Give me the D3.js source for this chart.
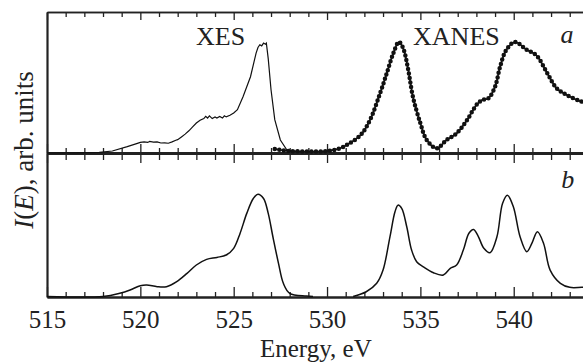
<!DOCTYPE html>
<html>
<head>
<meta charset="utf-8">
<script src="https://cdn.jsdelivr.net/npm/d3@7"></script>
<style>
  body { margin: 0; background: #fff; }
  svg { display: block; }
</style>
</head>
<body>
<script>
// panel a: measured XES (thin line) and XANES (dotted, thick)
const xesEnergy = [515.0, 516.5, 517.8, 518.5, 519.3, 519.8, 520.0, 520.2, 520.4, 520.5, 520.7, 520.9, 521.1, 521.3, 521.5,
  521.7, 521.9, 522.0, 522.2, 522.4, 522.6, 522.8, 523.0, 523.2, 523.4, 523.5, 523.6, 523.7, 523.85, 524.0, 524.1,
  524.25, 524.4, 524.5, 524.6, 524.8, 525.0, 525.2, 525.5, 525.9, 526.2, 526.3, 526.4, 526.5, 526.6, 526.7, 526.75,
  526.85, 527.0, 527.2, 527.5, 527.85, 528.5];
const xesIntensity = [0.0, 0.002, 0.006, 0.018, 0.057, 0.085, 0.095, 0.1, 0.095, 0.105, 0.098, 0.1, 0.09, 0.092, 0.088,
  0.1, 0.115, 0.12, 0.145, 0.17, 0.2, 0.235, 0.27, 0.295, 0.31, 0.33, 0.315, 0.335, 0.31, 0.325, 0.315,
  0.33, 0.315, 0.335, 0.325, 0.34, 0.36, 0.39, 0.507, 0.687, 0.9, 0.95, 0.975, 0.965, 0.99, 0.98, 0.99,
  0.85, 0.57, 0.3, 0.117, 0.027, 0.01];

const xanesEnergy = [527.2, 527.5, 528.0, 529.0, 530.0, 530.7, 531.2, 531.8, 532.3, 532.84, 533.2, 533.55, 533.85,
  534.08, 534.35, 534.6, 535.0, 535.34, 535.87, 536.4, 536.94, 537.5, 538.0, 538.3, 538.64, 539.0, 539.27, 539.6,
  540.07, 540.7, 541.2, 541.8, 542.3, 542.84, 543.64, 544.0];
const xanesIntensity = [0.036, 0.027, 0.018, 0.014, 0.018, 0.042, 0.087, 0.162, 0.297, 0.538, 0.718, 0.898, 1.0,
  0.943, 0.748, 0.507, 0.268, 0.117, 0.042, 0.117, 0.177, 0.297, 0.432, 0.477, 0.493, 0.597, 0.777, 0.928,
  1.0, 0.928, 0.883, 0.718, 0.583, 0.523, 0.462, 0.45];

// panel b: calculated spectra, two pieces
const calcXesEnergy = [515.0, 518.0, 518.9, 519.45, 520.0, 520.34, 520.9, 521.4, 521.95, 522.5, 523.0, 523.55, 524.1,
  524.6, 525.0, 525.34, 525.7, 526.05, 526.3, 526.6, 526.85, 527.1, 527.4, 527.66, 528.0, 528.9, 529.25];
const calcXesIntensity = [0.005, 0.005, 0.036, 0.068, 0.11, 0.117, 0.1, 0.1, 0.149, 0.23, 0.311, 0.366, 0.385,
  0.408, 0.473, 0.618, 0.813, 0.958, 1.0, 0.958, 0.813, 0.586, 0.327, 0.133, 0.036, 0.01, 0.005];

const calcXanesEnergy = [531.4, 532.1, 532.66, 533.0, 533.37, 533.64, 533.8, 534.0, 534.27, 534.53, 534.8, 535.16,
  535.7, 536.23, 536.6, 536.94, 537.3, 537.6, 537.85, 538.1, 538.4, 538.73, 539.1, 539.4, 539.66, 539.98, 540.34,
  540.7, 540.97, 541.27, 541.6, 541.95, 542.5, 543.0, 543.64, 544.0];
const calcXanesIntensity = [0.005, 0.051, 0.133, 0.262, 0.585, 0.828, 0.893, 0.861, 0.683, 0.456, 0.343, 0.294,
  0.236, 0.214, 0.279, 0.311, 0.456, 0.62, 0.657, 0.59, 0.473, 0.43, 0.585, 0.91, 0.99, 0.877, 0.585,
  0.44, 0.521, 0.634, 0.521, 0.262, 0.133, 0.094, 0.094, 0.094];

const majorTicks = [515, 520, 525, 530, 535, 540];
const minorTicks = d3.range(516, 544).filter(v => v % 5 !== 0);

const W = 583, H = 362;
const serif = "'Liberation Serif', serif";

const svg = d3.select('body').append('svg').attr('width', W).attr('height', H);

const x = d3.scaleLinear().domain([515, 544]).range([47, 588.4]);
const yA = d3.scaleLinear().domain([0, 1.27]).range([153, 12]);
const yB = d3.scaleLinear().domain([0, 1.4]).range([297, 153]);

const zip = (xs, ys) => xs.map((e, i) => ({ e, v: ys[i] }));

// axis helper
const addAxis = (axis, ty, domainWidth) => {
  const g = svg.append('g').attr('transform', `translate(0,${ty})`).call(axis);
  g.select('.domain').attr('stroke', '#222').attr('stroke-width', domainWidth);
  g.selectAll('.tick line').attr('stroke', '#222').attr('stroke-width', 1.3);
  return g;
};

// top border
addAxis(d3.axisTop(x).tickValues(minorTicks).tickSize(-5).tickSizeOuter(0).tickFormat(''), yA(1.27), 1.6);
addAxis(d3.axisTop(x).tickValues(majorTicks).tickSize(-8).tickSizeOuter(0).tickFormat(''), yA(1.27), 1.6);

// middle divider: ticks up for panel a, down for panel b
addAxis(d3.axisBottom(x).tickValues(minorTicks).tickSize(-5).tickSizeOuter(0).tickFormat(''), yA(0), 2.4);
addAxis(d3.axisBottom(x).tickValues(majorTicks).tickSize(-9).tickSizeOuter(0).tickFormat(''), yA(0), 2.4);
addAxis(d3.axisTop(x).tickValues(minorTicks).tickSize(-7).tickSizeOuter(0).tickFormat(''), yA(0), 2.4);
addAxis(d3.axisTop(x).tickValues(majorTicks).tickSize(-10).tickSizeOuter(0).tickFormat(''), yA(0), 2.4);

// bottom axis with labels
addAxis(d3.axisBottom(x).tickValues(minorTicks).tickSize(-5).tickSizeOuter(0).tickFormat(''), yB(0), 2.2);
const xAxis = addAxis(d3.axisBottom(x).tickValues(majorTicks).tickSize(-10).tickPadding(13)
  .tickSizeOuter(0).tickFormat(d3.format('d')), yB(0), 2.2);
xAxis.selectAll('text').style('font-family', serif).attr('font-size', 25).attr('fill', '#222');

// left axis
[yA, yB].forEach(s => {
  svg.append('g').attr('transform', `translate(${x(515)},0)`)
    .call(d3.axisLeft(s).tickValues([]).tickSizeOuter(0))
    .select('.domain').attr('stroke', '#222').attr('stroke-width', 2.2);
});

const lineA = d3.line().x(d => x(d.e)).y(d => yA(d.v));
const lineB = d3.line().x(d => x(d.e)).y(d => yB(d.v)).curve(d3.curveCatmullRom.alpha(0.5));

svg.append('path')
  .datum(zip(xesEnergy, xesIntensity))
  .attr('fill', 'none').attr('stroke', '#111').attr('stroke-width', 1.2)
  .attr('d', lineA);

// XANES: thin core line with round dots on top
const xanesLine = d3.line().x(d => x(d.e)).y(d => yA(d.v)).curve(d3.curveCatmullRom.alpha(0.5));
const xanesData = zip(xanesEnergy, xanesIntensity);
svg.append('path').datum(xanesData)
  .attr('fill', 'none').attr('stroke', '#111').attr('stroke-width', 1.6)
  .attr('d', xanesLine);
svg.append('path').datum(xanesData)
  .attr('fill', 'none').attr('stroke', '#111').attr('stroke-width', 4.5)
  .attr('stroke-linecap', 'round').attr('stroke-dasharray', '0 4.6')
  .attr('d', xanesLine);

[zip(calcXesEnergy, calcXesIntensity), zip(calcXanesEnergy, calcXanesIntensity)].forEach(d => {
  svg.append('path').datum(d)
    .attr('fill', 'none').attr('stroke', '#111').attr('stroke-width', 1.5)
    .attr('d', lineB);
});

// labels
const label = (txt, ex, ty, italic) => svg.append('text')
  .attr('x', x(ex)).attr('y', ty)
  .attr('text-anchor', 'middle')
  .style('font-family', serif).attr('font-size', 26)
  .attr('font-style', italic ? 'italic' : 'normal')
  .attr('fill', '#222').text(txt);

label('XES', 524.3, yA(0.97), false);
label('XANES', 536.93, yA(0.97), false);
label('a', 542.85, yA(0.99), true);
label('b', 542.9, yB(1.06), true);

svg.append('text')
  .attr('x', x(529.4)).attr('y', 357)
  .attr('text-anchor', 'middle')
  .style('font-family', serif).attr('font-size', 25).attr('fill', '#222')
  .text('Energy, eV');

const yl = svg.append('text')
  .attr('transform', 'translate(33,150) rotate(-90)')
  .attr('text-anchor', 'middle')
  .style('font-family', serif).attr('font-size', 27).attr('fill', '#222');
yl.append('tspan').attr('font-style', 'italic').text('I');
yl.append('tspan').text('(');
yl.append('tspan').attr('font-style', 'italic').text('E');
yl.append('tspan').text('), arb. units');
</script>
</body>
</html>
